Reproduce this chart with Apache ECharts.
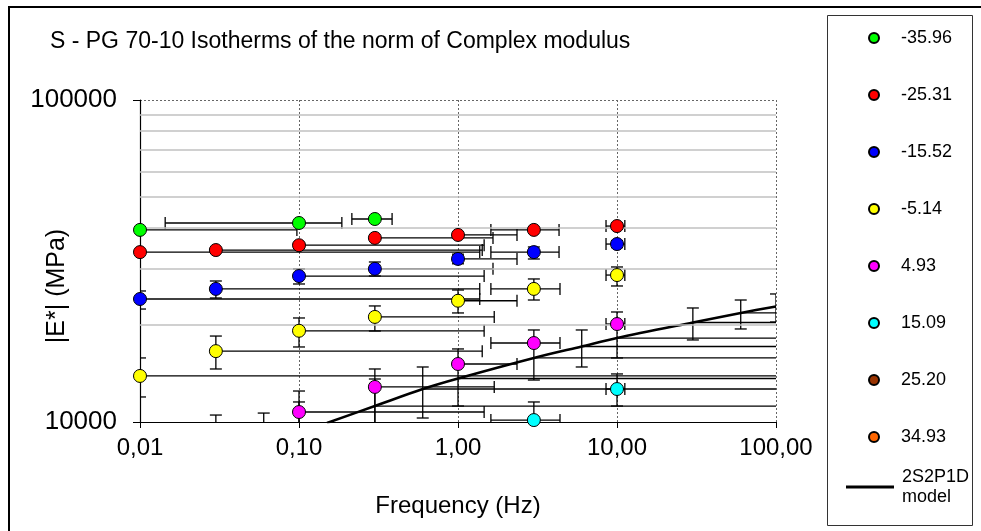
<!DOCTYPE html>
<html><head><meta charset="utf-8">
<script src="https://cdn.jsdelivr.net/npm/echarts@6/dist/echarts.min.js"></script>
<style>html,body{margin:0;padding:0;background:#fff}#c{width:981px;height:531px}</style>
</head><body><div id="c"></div>
<script>
// ---------- data ----------
const tempNames = ['-35.96','-25.31','-15.52','-5.14','4.93','15.09','25.20','34.93'];
const tempColors = ['#00ff00','#ff0000','#0000ff','#ffff00','#ff00ff','#00ffff','#993300','#ff6600'];
const modelName = '2S2P1D\nmodel';
const xTicks = [0.01, 0.1, 1, 10, 100];
const yTicks = [10000, 100000];
const minorGrid = [20000,30000,40000,50000,60000,70000,80000,90000];

// [frequency (Hz), |E*| (MPa)]
const green   = [[0.01,39500],[0.1,41500],[0.3,42700]];
const red     = [[0.01,33700],[0.03,34200],[0.1,35400],[0.3,37300],[1,38100],[3,39500],[10,40600]];
const blue    = [[0.01,24100],[0.03,25900],[0.1,28400],[0.3,29900],[1,32100],[3,33700],[10,35700]];
const yellow  = [[0.01,13900],[0.03,16600],[0.1,19200],[0.3,21200],[1,23800],[3,25900],[10,28600]];
const magenta = [[0.1,10740],[0.3,12850],[1,15140],[3,17590],[10,20150]];
const cyan    = [[3,10140],[10,12660]];
const brown   = [];
const orange  = [];
const model   = [[0.15,9930],[0.3,11210],[0.6,12660],[1,13650],[3,15810],[6,17160],[10,18230],[30,20370],[60,21810],[100,22850]];

// horizontal error bars: [fLow, fHigh, |E*|, capLow, capHigh]
const hBars = [
  [0.01,0.097,39500,0,1],[0.0144,0.186,41500,1,1],[0.215,0.385,42700,1,1],
  [0.01,1.37,33700,0,1],[0.03,1.42,34200,0,1],[0.1,1.46,35400,0,1],[0.3,1.66,37300,0,1],[1,2.35,38100,0,1],[1.61,4.32,39500,1,1],[8.53,11.2,40600,1,1],
  [0.01,1.37,24100,0,1],[0.03,1.37,25900,0,1],[0.1,1.46,28400,0,1],[0.3,1.66,29900,0,1],[1,2.35,32100,0,1],[1.61,4.32,33700,1,1],[8.53,11.2,35700,1,1],
  [0.01,200,13900,0,0],[0.03,1.42,16600,0,1],[0.1,1.46,19200,0,1],[0.3,1.69,21200,0,1],[1,2.35,23800,0,1],[1.61,4.38,25900,1,1],[8.53,11.2,28600,1,1],
  [0.1,1.46,10740,0,1],[0.3,1.69,12850,0,1],[1,2.35,15140,0,1],[1.61,4.38,17590,1,1],[8.53,11.2,20150,1,1],
  [1.61,4.38,10140,1,1],[8.53,11.2,12660,1,1],
  [0.3,200,11210,0,0],[0.6,200,12660,0,0],[1,200,13650,0,0],[3,200,15810,0,0],[6,200,17160,0,0],[10,200,18230,0,0],[30,200,20370,0,0],[60,200,21810,0,0]
];
// vertical error bars: [f, low, high]
const vBars = [
  [0.01,22430,25520],[0.03,24270,27410],[0.1,26830,29870],[0.3,28410,31400],[1,31000,33200],[3,32080,34960],[10,34800,36600],
  [0.01,11960,15810],[0.03,14610,18490],[0.1,17100,21040],[0.3,19170,22930],[1,21810,25700],[3,23925,27810],[10,26450,30300],
  [0.1,9000,12480],[0.3,9000,14610],[1,11210,16860],[3,13500,19310],[10,15810,21960],
  [3,9000,11540],[10,11210,14100],[10,39700,41500],
  [0.03,9000,10510],[0.06,9000,10660],[0.1,9000,11540],[0.3,9000,13600],[0.6,10290,14820],[6,14820,19310],[30,17980,22600],[60,19450,23925],[100,20440,24980]
];

// ---------- chart ----------
const FONT = 'Liberation Sans, Arial, sans-serif';
const chart = echarts.init(document.getElementById('c'), null, {renderer:'canvas'});
const pointSets = [green, red, blue, yellow, magenta, cyan, brown, orange];
const CAP = 6, EW = 1.3;

function renderH(params, api) {
  const y = api.value(2);
  const p1 = api.coord([api.value(0), y]);
  const p2 = api.coord([api.value(1), y]);
  const st = {stroke:'#000', lineWidth:EW};
  const ch = [{type:'line', shape:{x1:p1[0],y1:p1[1],x2:p2[0],y2:p2[1]}, style:st}];
  if (api.value(3)) ch.push({type:'line', shape:{x1:p1[0],y1:p1[1]-CAP,x2:p1[0],y2:p1[1]+CAP}, style:st});
  if (api.value(4)) ch.push({type:'line', shape:{x1:p2[0],y1:p2[1]-CAP,x2:p2[0],y2:p2[1]+CAP}, style:st});
  return {type:'group', children:ch};
}
function renderV(params, api) {
  const x = api.value(0);
  const p1 = api.coord([x, api.value(1)]);
  const p2 = api.coord([x, api.value(2)]);
  const st = {stroke:'#000', lineWidth:EW};
  return {type:'group', children:[
    {type:'line', shape:{x1:p1[0],y1:p1[1],x2:p2[0],y2:p2[1]}, style:st},
    {type:'line', shape:{x1:p1[0]-CAP,y1:p1[1],x2:p1[0]+CAP,y2:p1[1]}, style:st},
    {type:'line', shape:{x1:p2[0]-CAP,y1:p2[1],x2:p2[0]+CAP,y2:p2[1]}, style:st}
  ]};
}

const series = [
  {type:'custom', name:'hbars', data:hBars, encode:{x:[0,1], y:2}, renderItem:renderH, clip:true, z:2, silent:true,
   markLine:{silent:true, symbol:'none', label:{show:false}, animation:false,
     lineStyle:{color:'#c0c0c0', width:1.5, type:'solid'}, data:minorGrid.map(v=>({yAxis:v}))}},
  {type:'custom', name:'vbars', data:vBars, encode:{x:0, y:[1,2]}, renderItem:renderV, clip:true, z:2, silent:true},
  {type:'line', name:modelName, data:model, smooth:0.3, showSymbol:false, symbol:'none', color:'#000',
   lineStyle:{color:'#000', width:2.6}, z:3, silent:true}
];
tempNames.forEach((n,i)=>{
  series.push({type:'scatter', name:n, data:pointSets[i], symbol:'circle', symbolSize:13, z:5,
    itemStyle:{color:tempColors[i], borderColor:'#000', borderWidth:1, opacity:1}});
});

chart.setOption({
  animation:false,
  backgroundColor:'#fff',
  title:{text:'S - PG 70-10 Isotherms of the norm of Complex modulus', left:50, top:30, padding:0,
    textStyle:{fontFamily:FONT, fontSize:23, fontWeight:'normal', color:'#000'}},
  grid:{left:140, top:100, width:636, height:322, containLabel:false, outerBoundsMode:'none'},
  xAxis:{type:'log', logBase:10, min:xTicks[0], max:xTicks[xTicks.length-1],
    name:'Frequency (Hz)', nameLocation:'middle', nameGap:72,
    nameTextStyle:{fontFamily:FONT, fontSize:24, color:'#000'},
    axisLine:{lineStyle:{color:'#000', width:1.2}},
    axisTick:{show:true, length:6, lineStyle:{color:'#000'}},
    axisLabel:{fontFamily:FONT, fontSize:24, color:'#000', margin:14,
      formatter:v=>Number(v).toFixed(2).replace('.',',')},
    splitLine:{show:true, lineStyle:{color:'#666', width:1, type:[2,2]}},
    minorTick:{show:false}},
  yAxis:{type:'log', logBase:10, min:yTicks[0], max:yTicks[1],
    axisLine:{show:true, lineStyle:{color:'#000', width:1.2}},
    axisTick:{show:true, length:7, lineStyle:{color:'#000'}},
    axisLabel:{fontFamily:FONT, fontSize:26, color:'#000', margin:23,
      formatter:v=>String(Math.round(v))},
    splitLine:{show:true, lineStyle:{color:'#666', width:1, type:[2,2]}}},
  legend:[
    {orient:'vertical', left:863, top:23, itemWidth:10, itemHeight:10, itemGap:37, selectedMode:false,
     data:tempNames, icon:'circle',
     textStyle:{fontFamily:FONT, fontSize:18, lineHeight:20, color:'#000', padding:[0,0,0,17]}},
    {orient:'vertical', left:841, top:452, itemWidth:48, itemHeight:3, selectedMode:false,
     data:[{name:modelName, icon:'rect'}],
     textStyle:{fontFamily:FONT, fontSize:18, lineHeight:20, color:'#000', padding:[20,0,0,3]}}
  ],
  graphic:[
    {type:'rect', silent:true, z:-1, shape:{x:9, y:7, width:990, height:540}, style:{fill:'none', stroke:'#000', lineWidth:2}},
    {type:'rect', silent:true, z:-1, shape:{x:827.5, y:15.5, width:145, height:510}, style:{fill:'none', stroke:'#333', lineWidth:1}},
    {type:'text', silent:true, x:57, y:286, rotation:Math.PI/2,
     style:{text:'|E*| (MPa)', fontFamily:FONT, fontSize:25, fill:'#000', align:'center', verticalAlign:'middle'}}
  ],
  series:series
});
</script></body></html>
